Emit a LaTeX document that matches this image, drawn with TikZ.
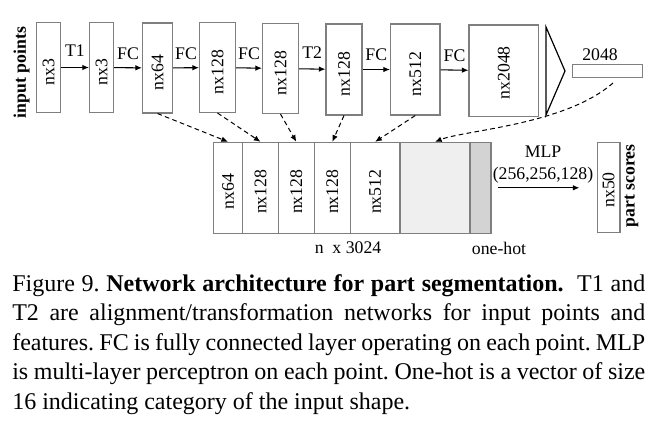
\documentclass[tikz,border=0pt]{standalone}
\usepackage{fontspec}
\setmainfont{Liberation Serif}
\usepackage{graphicx}
\usetikzlibrary{arrows.meta}
\definecolor{bordergray}{HTML}{7F7F7F}
\definecolor{fillA}{HTML}{EFEFEF}
\definecolor{fillB}{HTML}{D3D3D3}
\frenchspacing
\begin{document}
\begin{tikzpicture}[x=0.75pt,y=-0.75pt,
  font=\fontsize{13.3}{15.7}\selectfont,
  box/.style={draw=bordergray, line width=0.8pt, inner sep=0pt},
  sz/.style 2 args={minimum width=#1*0.75pt, minimum height=#2*0.75pt},
  vt/.style={rotate=90, inner sep=0pt},
  bft/.style={font=\fontsize{13.3}{15.7}\selectfont\bfseries},
  arr/.style={-{Latex[length=5pt,width=4.2pt]}, line width=0.8pt},
  darr/.style={arr, dash pattern=on 3.5pt off 2.5pt, line width=0.75pt},
  lab/.style={midway, anchor=base, inner sep=0pt, yshift=#1},
  capfont/.style={font=\fontsize{18}{21.75}\selectfont, anchor=base west, inner sep=0pt},
]
\useasboundingbox (0,0) rectangle (657,422);

% top row
\node[vt, bft] (inp) at (21.5,72.5) {input points};
\node[box, sz={24}{90}] (b1) at (48.5,67.5) {};
\node[vt] (t1) at ([yshift=-3.5pt]b1.center) {nx3};
\node[box, sz={24}{90}] (b2) at (101.5,67.5) {};
\node[vt] (t2) at ([yshift=-3.5pt]b2.center) {nx3};
\node[box, sz={30}{90}] (b3) at (157.5,68) {};
\node[vt] (t3) at ([yshift=-3.5pt]b3.center) {nx64};
\node[box, sz={36}{90}] (b4) at (217.5,67.5) {};
\node[vt] (t4) at ([yshift=-3.5pt]b4.center) {nx128};
\node[box, sz={36}{90}] (b5) at (280.5,68.5) {};
\node[vt] (t5) at ([yshift=-3.5pt]b5.center) {nx128};
\node[box, sz={36}{91}] (b6) at (344,69.5) {};
\node[vt] (t6) at ([yshift=-3.5pt]b6.center) {nx128};
\node[box, sz={49.5}{91}] (b7) at (415.25,69.5) {};
\node[vt] (t7) at ([yshift=-3.5pt]b7.center) {nx512};
\node[box, sz={69.5}{91.5}] (b8) at (503.75,70.75) {};
\node[vt] (t8) at ([yshift=-1.5pt]b8.center) {nx2048};
\draw[line width=0.9pt] (546,27) -- (565,71) -- (546,115) -- cycle;
\node[box, sz={70}{13}] (b9) at (607.5,71) {};
\node[anchor=base] (l9) at (600,60) {2048};

\draw[arr] (b1) -- (b2) node[lab=8pt]{T1};
\draw[arr] (b2) -- (b3) node[lab=6.5pt]{FC};
\draw[arr] (b3) -- (b4) node[lab=6.5pt]{FC};
\draw[arr] (b4) -- (b5) node[lab=6.5pt]{FC};
\draw[arr] (b5) -- (b6) node[lab=8pt]{T2};
\draw[arr] (b6) -- (b7) node[lab=6.5pt]{FC};
\draw[arr] (b7) -- (b8) node[lab=6.5pt]{FC};

% bottom row
\node[box, sz={29.4}{91}] (c1) at (228,187.8) {};
\node[vt] at ([yshift=-3pt]c1.center) {nx64};
\node[box, sz={35.6}{91}] (c2) at (260.5,187.8) {};
\node[vt] at ([yshift=-3pt]c2.center) {nx128};
\node[box, sz={36}{91}] (c3) at (296.3,187.8) {};
\node[vt] at ([yshift=-3pt]c3.center) {nx128};
\node[box, sz={36}{91}] (c4) at (332.3,187.8) {};
\node[vt] at ([yshift=-3pt]c4.center) {nx128};
\node[box, sz={49.7}{91}] (c5) at (375.15,187.8) {};
\node[vt] at ([yshift=-3pt]c5.center) {nx512};
\node[box, fill=fillA, sz={70}{91}] (c6) at (435,187.8) {};
\node[box, fill=fillB, sz={21}{91}] (c7) at (480.5,187.8) {};
\node[box, sz={22.7}{90}] (c8) at (608.65,187.3) {};
\node[vt] at ([yshift=-2pt]c8.center) {nx50};
\node[vt, bft] (ps) at (631.5,186) {part scores};

\node (nx) at (348,248) {n\ \ x 3024};
\node (oh) at (499,248) {one-hot};
\node[anchor=base] (mlp) at (543,157) {MLP};
\node[anchor=base] (mlpn) at (543,179) {(256,256,128)};
\draw[arr, shorten <=5pt, shorten >=13pt] (c7.east) -- (c7.east -| c8.west);

% skip connections
\draw[darr] (b3.south) -- (c1.north);
\draw[darr] (b4.south) -- (c2.north);
\draw[darr] (b5.south) -- (c3.north);
\draw[darr] (b6.south) -- (c4.north);
\draw[darr] (b7.south) -- (c5.north);
\coordinate (s9) at (613,83);
\draw[darr] (s9) .. controls (565,125) and (465,130) .. (c6.north);

% caption
\node[capfont] (cap1) at (12,291) {\makebox[474.75pt][s]{Figure 9. \textbf{Network architecture for part segmentation.}\ \ T1 and}};
\node[capfont] (cap2) at (12,320.5) {\makebox[474.75pt][s]{T2 are alignment/transformation networks for input points and}};
\node[capfont] (cap3) at (12,350) {\makebox[474.75pt][s]{features. FC is fully connected layer operating on each point. MLP}};
\node[capfont] (cap4) at (12,379.5) {\makebox[474.75pt][s]{is multi-layer perceptron on each point. One-hot is a vector of size}};
\node[capfont] (cap5) at (12,409) {16 indicating category of the input shape.};
\end{tikzpicture}
\end{document}
